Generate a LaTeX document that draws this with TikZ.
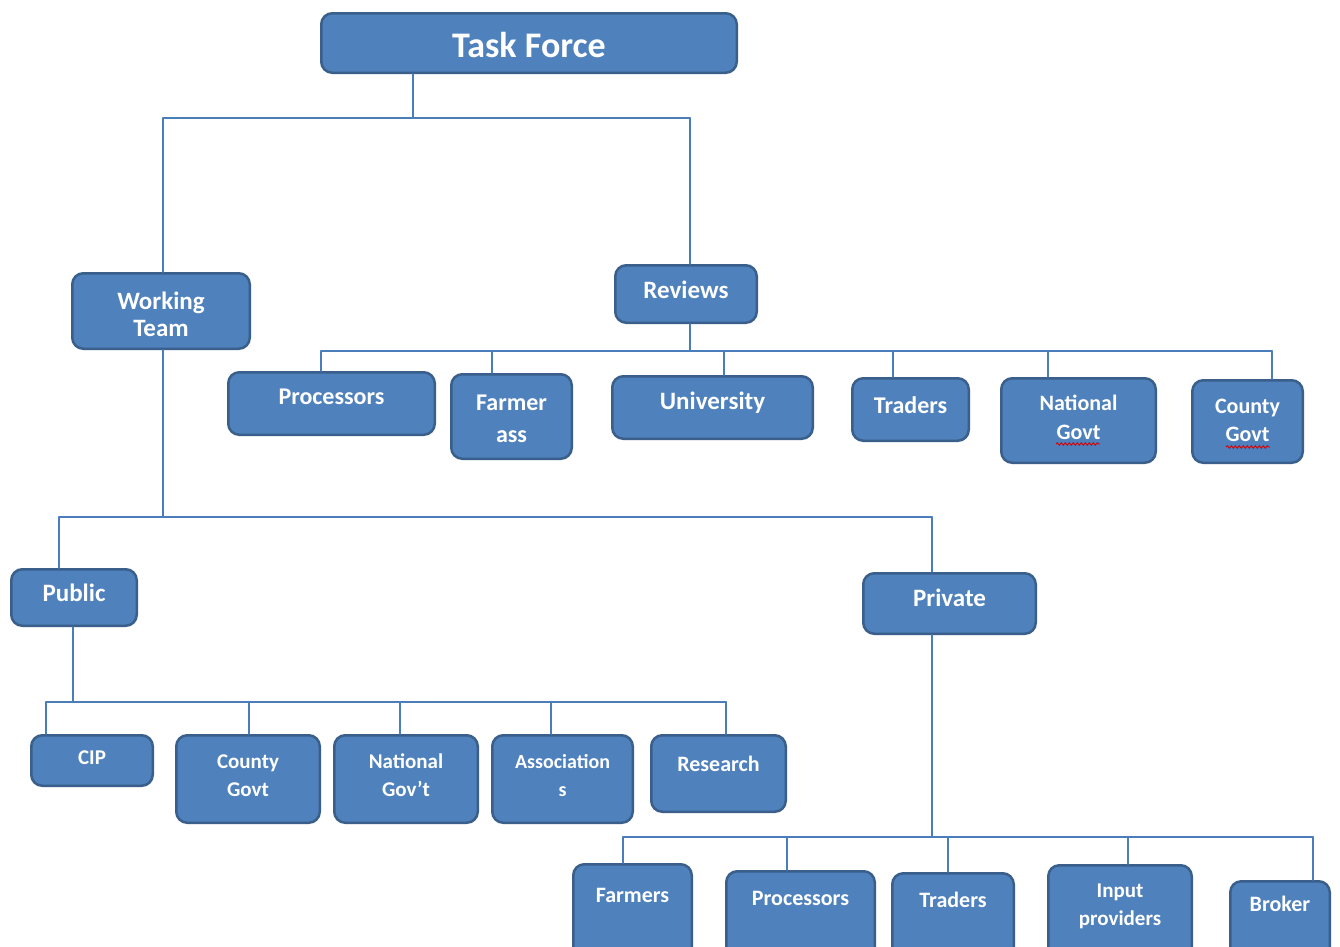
\documentclass[tikz,border=0pt]{standalone}
\usepackage{fontspec}
\setmainfont{Carlito}
\usetikzlibrary{calc,decorations.pathmorphing}
\definecolor{boxfill}{HTML}{4F81BD}
\definecolor{boxline}{HTML}{3A5F8B}
\definecolor{wire}{HTML}{4A7EBB}
\tikzset{
  box/.style={draw=boxline, fill=boxfill, line width=2.5pt, rounded corners=11pt, inner sep=0pt},
  lbl/.style={text=white, align=center, anchor=base, inner sep=0pt},
  wirestyle/.style={draw=wire, line width=1.6pt, line cap=round},
  squiggle/.style={draw=red!85!black, line width=0.9pt, decorate, decoration={snake, amplitude=1.2pt, segment length=4pt}}
}
% name, x1, y1, x2, y2, font size, line skip, last baseline, text
\newcommand\bx[9]{%
  \node[box, minimum width={(#4-#2-2.5)*1pt}, minimum height={(#5-#3-2.5)*1pt}] (#1) at ({(#2+#4)/2},{(#3+#5)/2}) {};
  \node[lbl, font={\fontsize{#6}{#7}\selectfont\bfseries}] (#1-t) at ({(#2+#4)/2},#8) {#9};
}
% connector from a bus down to the top of a box (x offset from the box centre)
\newcommand\drop[3]{%
  \path (#1.north) ++(#2,0) coordinate (#1-in);
  \draw[wirestyle] (#1-in |- #3) -- (#1-in);
}
% connector from the bottom of a box to a bus
\newcommand\stem[3]{%
  \path (#1.south) ++(#2,0) coordinate (#1-out);
  \draw[wirestyle] (#1-out) -- (#1-out |- #3);
}
\begin{document}
\begin{tikzpicture}[x=1pt,y=-1pt]
\useasboundingbox (0,0) rectangle (1340,946);
\fill[white] (0,0) rectangle (1340,946);
\clip (0,0) rectangle (1340,946);

% bus levels
\coordinate (b0) at (0,118);
\coordinate (b1) at (0,351);
\coordinate (b2) at (0,517);
\coordinate (b3) at (0,702);
\coordinate (b4) at (0,837);

% boxes
\bx{tf}{320}{12}{738}{74}{36}{40}{57}{Task Force}
\bx{wt}{71}{272}{251}{350}{25}{27}{336}{Working\\Team}
\bx{rv}{614}{264}{758}{324}{25}{28}{298}{Reviews}
\bx{pra}{227}{371}{436}{436}{24}{28}{404}{Processors}
\bx{fa}{450}{373}{573}{460}{24}{32}{442}{Farmer\\ass}
\bx{un}{611}{375}{814}{440}{25}{28}{409}{University}
\bx{tra}{851}{377}{970}{442}{24}{28}{413}{Traders}
\bx{nga}{1000}{377}{1157}{464}{22}{29}{439}{National\\Govt}
\bx{cga}{1191}{379}{1304}{464}{22}{28}{441}{County\\Govt}
\bx{pu}{10}{568}{138}{627}{25}{28}{601}{Public}
\bx{pv}{862}{572}{1037}{635}{25}{28}{606}{Private}
\bx{cip}{30}{734}{154}{787}{21}{28}{764}{CIP}
\bx{cgb}{175}{734}{321}{824}{21}{28}{796}{County\\Govt}
\bx{ngb}{333}{734}{479}{824}{21}{28}{796}{National\\Gov’t}
\bx{as}{491}{734}{634}{824}{20}{28}{796}{Association\\s}
\bx{rs}{650}{734}{787}{813}{22}{28}{771}{Research}
\bx{fm}{572}{863}{693}{962}{22}{28}{902}{Farmers}
\bx{prb}{725}{870}{876}{962}{22}{28}{905}{Processors}
\bx{trb}{891}{872}{1015}{962}{22}{28}{907}{Traders}
\bx{ip}{1047}{864}{1193}{962}{21}{28}{925}{Input\\providers}
\bx{br}{1229}{880}{1331}{962}{22}{28}{911}{Broker}

% Task Force level
\stem{tf}{-116}{b0}
\drop{wt}{2}{b0}
\drop{rv}{4}{b0}
\draw[wirestyle] (wt-in |- b0) -- (rv-in |- b0);

% Reviews level
\stem{rv}{4}{b1}
\drop{pra}{-10.5}{b1}
\drop{fa}{-19.5}{b1}
\drop{un}{11.5}{b1}
\drop{tra}{-17.5}{b1}
\drop{nga}{-30.5}{b1}
\drop{cga}{24.5}{b1}
\draw[wirestyle] (pra-in |- b1) -- (cga-in |- b1);

% Working Team level
\stem{wt}{2}{b2}
\drop{pu}{-15}{b2}
\drop{pv}{-17.5}{b2}
\draw[wirestyle] (pu-in |- b2) -- (pv-in |- b2);

% Public level
\stem{pu}{-1}{b3}
\drop{cip}{-46}{b3}
\drop{cgb}{1}{b3}
\drop{ngb}{-6}{b3}
\drop{as}{-11.5}{b3}
\drop{rs}{7.5}{b3}
\draw[wirestyle] (cip-in |- b3) -- (rs-in |- b3);

% Private level
\stem{pv}{-17.5}{b4}
\drop{fm}{-9.5}{b4}
\drop{prb}{-13.5}{b4}
\drop{trb}{-5}{b4}
\drop{ip}{8}{b4}
\drop{br}{33}{b4}
\draw[wirestyle] (fm-in |- b4) -- (br-in |- b4);

% spell-check marks under "Govt"
\draw[squiggle] (1056,444) -- (1100,444);
\draw[squiggle] (1226,447) -- (1270,447);
\end{tikzpicture}
\end{document}
